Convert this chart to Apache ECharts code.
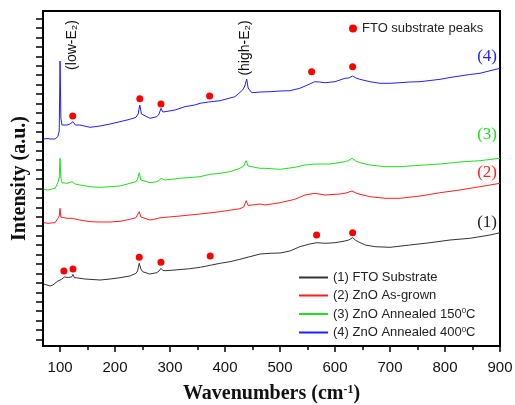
<!DOCTYPE html>
<html><head><meta charset="utf-8">
<script src="https://cdn.jsdelivr.net/npm/echarts@6/dist/echarts.min.js"></script>
<style>html,body{margin:0;padding:0;background:#fff}#c{width:515px;height:405px}</style>
</head><body><div id="c"></div>
<script>
// X tick labels (cm^-1)
const xTickLabels = [100, 200, 300, 400, 500, 600, 700, 800, 900];
const xMinorTicks = [150, 250, 350, 450, 550, 650, 750, 850];
const seriesNames = ['(1) FTO Substrate', '(2) ZnO As-grown', '(3) ZnO Annealed 150°C', '(4) ZnO Annealed 400°C'];
const peakName = 'FTO substrate peaks';

// (1) FTO substrate [wavenumber, intensity a.u.]
const fto = [[70,62],[73,61],[82,60],[87,61],[96,65],[102,66.5],[105,68.5],[108,69],[111,69.3],[115,68.5],[118,68.3],[121,69],[123.5,71.5],[126,68.5],[129,68.3],[145,67],[173,66],[191,67],[209,68.3],[227,70],[238,72.7],[241,75],[244,82.7],[247,77],[250,74.3],[263,72],[276,73.3],[280,75],[283.5,77.7],[287,75.5],[291,75.3],[309,76],[336,77.3],[355,78.7],[373,80.7],[391,82.7],[409,84.3],[427,86.7],[445,89.3],[464,92],[482,92.7],[500,93],[518,95],[536,99.3],[554,102],[567,103.3],[582,102.7],[600,103.3],[618,105],[625,106],[632,108.3],[637,106],[642,104.3],[655,101],[673,99.3],[700,98.7],[736,101],[773,103.3],[809,106],[845,107.7],[882,111],[900,113.3]];
// (2) ZnO as-grown
const asGrown = [[70,123.3],[78,122.7],[91,123.3],[96,127.7],[98.5,130],[100,137.7],[101.5,129],[103.5,128.7],[112.6,127.7],[122,127.7],[136,126],[154.5,124.3],[172.6,124],[191,124],[209,124.7],[227,126.7],[238,128.3],[241,130],[244,134.3],[247,129],[249,127],[263.5,126],[276,127.3],[280,128],[283.5,129.3],[291,128.7],[318,130],[354.5,132],[391,134.3],[427,137.3],[434,139],[438.5,145.3],[442,140.5],[445,140],[463.5,142],[472.6,141],[500,143.3],[527,146.7],[545.4,151],[563.5,152.7],[581.7,151],[609,152],[620,153],[630.8,155],[638,153],[645.4,151.7],[663.5,149.3],[690.8,147.7],[718,147.7],[754.5,150],[790.8,153.3],[827,156],[863.5,159.3],[900,162.7]];
// (3) ZnO annealed 150 C
const ann150 = [[70,156.7],[78,156],[91,157.7],[96,163.3],[98.5,168],[100,187.7],[101.5,168],[103.5,163.3],[112.6,162.7],[121.7,164.3],[128,162],[136,161],[154.5,159.3],[172.6,158.7],[191,159.3],[209,160],[227,162.7],[238,164.3],[241,167],[244,173.3],[247,166],[249,164.3],[263.5,163.3],[276,164.3],[280,165.5],[283.5,167.7],[291,166],[318,167.7],[354.5,169.3],[372.7,171.7],[391,172.7],[409,174.3],[427,177.7],[434,180],[438.5,185.3],[442,180],[445,178.7],[463.5,177.7],[472.6,177.7],[500,176.7],[527,178.7],[545.4,181],[563.5,182],[591,182],[618,184.3],[625,185.5],[630.8,187.7],[638,185],[645.4,183.3],[663.5,181],[690.8,179.3],[718,179.3],[754.5,180.7],[790.8,182],[827,184],[863.5,185.3],[900,187.7]];
// (4) ZnO annealed 400 C
const ann400 = [[70,207],[73,209],[78,207.5],[82,207],[91,207],[96,209.5],[98.5,215],[100,285],[101.5,228],[103.5,221],[112.6,221],[118,222],[123.5,224.3],[128,221],[136,221],[154.5,218.7],[172.6,220],[191,222],[209,224.3],[227,226.7],[238,228.7],[242,232],[245,241],[248,232],[251,230],[263.5,227.7],[276,229.3],[280,232],[283.5,237.7],[287,234],[291,234.3],[309,236],[327,239.3],[345,241],[354.5,242.7],[370,244],[391,245.3],[418,249.3],[432,256],[436,260],[439.4,267],[442,258],[448.5,253.3],[465,254],[482,254.3],[500,255],[518,255.3],[536,257.7],[554,262],[563,264.3],[572,264],[582,263.3],[600,264.3],[618,267.7],[625,268],[632,270],[638,268],[645,266.7],[663.5,264.3],[682,262.7],[700,262.7],[718,263.3],[736,264],[754.5,264.3],[773,265.5],[791,266.7],[809,268.5],[827,270],[845,271.5],[863.5,272.7],[880,275],[900,277.7]];
// FTO substrate peak markers
const ftoPeaks1 = [[107,75],[123.5,77],[244,88.7],[283.5,83.7],[373,90],[566.5,111],[632,113.3]];
const ftoPeaks4 = [[123,230],[245,247.3],[283.5,242],[372,250],[557.5,274.3],[632,279.3]];

const colors = ['#333333', '#ff1f1f', '#1fe01f', '#1f1fff'];
const yTicks = [];
for (let k = 0; k < 35; k++) yTicks.push(6.5 + 9.44 * k);

const chart = echarts.init(document.getElementById('c'), null, {renderer: 'canvas'});
const SANS = 'Liberation Sans, Arial, sans-serif';
const SERIF = 'Liberation Serif, Times New Roman, serif';
const option = {
  animation: false,
  backgroundColor: '#fff',
  grid: {left: 43, right: 15, top: 11, bottom: 59, show: true, borderColor: '#000', borderWidth: 2, outerBoundsMode: 'none', containLabel: false},
  xAxis: [{
    type: 'value', min: 69, max: 900,
    axisLine: {lineStyle: {color: '#000', width: 2}},
    axisTick: {customValues: xTickLabels, length: 6, lineStyle: {color: '#000', width: 1.5}},
    axisLabel: {customValues: xTickLabels, fontSize: 15, color: '#111', margin: 14, fontFamily: SANS},
    splitLine: {show: false},
    name: '{a|Wavenumbers (cm}{s|-1}{a|)}',
    nameLocation: 'middle', nameGap: 38,
    nameTextStyle: {rich: {
      a: {fontFamily: SERIF, fontWeight: 'bold', fontSize: 20, color: '#111'},
      s: {fontFamily: SERIF, fontWeight: 'bold', fontSize: 12, color: '#111', verticalAlign: 'top', padding: [0,0,8,0]}
    }}
  }, {
    type: 'value', min: 69, max: 900, position: 'bottom',
    axisLine: {show: false},
    axisTick: {customValues: xMinorTicks, length: 4, lineStyle: {color: '#000', width: 1.5}},
    axisLabel: {show: false}, splitLine: {show: false}
  }],
  yAxis: {
    type: 'value', min: 0, max: 335,
    axisLine: {lineStyle: {color: '#000', width: 2}},
    axisTick: {customValues: yTicks, length: 7, lineStyle: {color: '#000', width: 1.5}},
    axisLabel: {show: false}, splitLine: {show: false},
    name: 'Intensity (a.u.)', nameLocation: 'middle', nameGap: 13,
    nameTextStyle: {fontFamily: SERIF, fontWeight: 'bold', fontSize: 20, color: '#111'}
  },
  legend: [{
    data: seriesNames, orient: 'vertical', left: 299, top: 271, padding: 0,
    itemWidth: 29, itemHeight: 2, icon: 'rect', itemGap: 5,
    formatter: function (n) {
      const m = n.match(/^(.*?)(\d+)°C$/);
      if (m) return '{a|' + m[1] + m[2] + '}{s|0}{a|C}';
      return '{a|' + n + '}';
    },
    textStyle: {color: '#222', fontFamily: SANS, fontSize: 13, rich: {
      a: {fontSize: 13, fontFamily: SANS, color: '#222'},
      s: {fontSize: 8, fontFamily: SANS, color: '#222', verticalAlign: 'top', padding: [0,0,6,0]}
    }}
  }, {
    data: [peakName], left: 349, top: 22, padding: 0,
    itemWidth: 8, itemHeight: 8, icon: 'circle', itemGap: 5,
    textStyle: {color: '#222', fontFamily: SANS, fontSize: 13}
  }],
  series: [
    {name: seriesNames[0], type: 'line', data: fto, showSymbol: false, symbol: 'none', lineStyle: {width: 1, color: colors[0]}, itemStyle: {color: colors[0]}, z: 2},
    {name: seriesNames[1], type: 'line', data: asGrown, showSymbol: false, symbol: 'none', lineStyle: {width: 1, color: colors[1]}, itemStyle: {color: colors[1]}, z: 2},
    {name: seriesNames[2], type: 'line', data: ann150, showSymbol: false, symbol: 'none', lineStyle: {width: 1, color: colors[2]}, itemStyle: {color: colors[2]}, z: 2},
    {name: seriesNames[3], type: 'line', data: ann400, showSymbol: false, symbol: 'none', lineStyle: {width: 1, color: colors[3]}, itemStyle: {color: colors[3]}, z: 2},
    {name: peakName, type: 'scatter', data: ftoPeaks1.concat(ftoPeaks4), symbol: 'circle', symbolSize: 7, itemStyle: {color: '#ff0000', opacity: 1}, z: 3}
  ],
  graphic: [
    {type: 'text', x: 72, y: 45, rotation: Math.PI / 2, style: {text: '(low-E₂)', font: '14px ' + SANS, fill: '#111', align: 'center', verticalAlign: 'middle'}},
    {type: 'text', x: 245, y: 48, rotation: Math.PI / 2, style: {text: '(high-E₂)', font: '14px ' + SANS, fill: '#111', align: 'center', verticalAlign: 'middle'}},
    {type: 'text', x: 497, y: 57, style: {text: '(4)', font: '17px ' + SERIF, fill: colors[3], align: 'right', verticalAlign: 'middle'}},
    {type: 'text', x: 497, y: 135, style: {text: '(3)', font: '17px ' + SERIF, fill: colors[2], align: 'right', verticalAlign: 'middle'}},
    {type: 'text', x: 497, y: 173, style: {text: '(2)', font: '17px ' + SERIF, fill: colors[1], align: 'right', verticalAlign: 'middle'}},
    {type: 'text', x: 497, y: 223, style: {text: '(1)', font: '17px ' + SERIF, fill: '#222', align: 'right', verticalAlign: 'middle'}}
  ]
};
chart.setOption(option);
</script></body></html>
